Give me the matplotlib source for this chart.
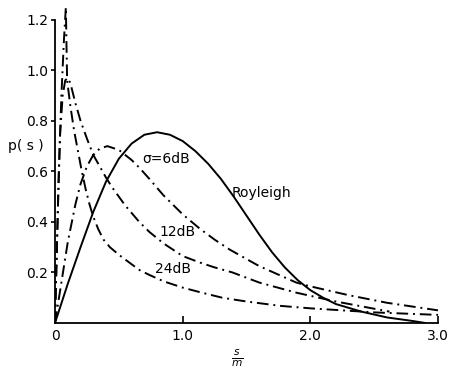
import matplotlib
matplotlib.use("Agg")
import matplotlib.pyplot as plt

# normalised amplitude s/m
ray_x = [0, 0.1, 0.2, 0.3, 0.4, 0.5, 0.6, 0.7, 0.8, 0.9, 1.0, 1.1, 1.2, 1.3,
         1.4, 1.5, 1.6, 1.7, 1.8, 1.9, 2.0, 2.1, 2.2, 2.4, 2.6, 2.8, 2.9]
ray_p = [0, 0.155, 0.30, 0.44, 0.56, 0.65, 0.71, 0.745, 0.755, 0.745, 0.72,
         0.68, 0.63, 0.57, 0.50, 0.425, 0.35, 0.28, 0.22, 0.17, 0.13, 0.10,
         0.075, 0.045, 0.022, 0.008, 0.0]

db6_x = [0, 0.05, 0.1, 0.16, 0.2, 0.25, 0.3, 0.35, 0.41, 0.5, 0.6, 0.66,
         0.74, 0.85, 1.0, 1.13, 1.25, 1.37, 1.6, 1.89, 2.0, 2.3, 2.6, 3.0]
db6_p = [0, 0.16, 0.32, 0.47, 0.55, 0.62, 0.665, 0.69, 0.70, 0.685, 0.645,
         0.615, 0.57, 0.505, 0.43, 0.375, 0.33, 0.29, 0.225, 0.16, 0.145,
         0.11, 0.08, 0.05]

db12_x = [0, 0.01, 0.025, 0.04, 0.06, 0.08, 0.10, 0.12, 0.16, 0.2, 0.25, 0.3,
          0.4, 0.45, 0.55, 0.66, 0.74, 0.85, 1.0, 1.13, 1.25, 1.39, 1.6,
          1.89, 2.2, 2.62]
db12_p = [0, 0.2, 0.5, 0.75, 0.9, 0.96, 0.97, 0.95, 0.87, 0.80, 0.73, 0.665,
          0.575, 0.535, 0.465, 0.40, 0.36, 0.315, 0.265, 0.24, 0.22, 0.20,
          0.16, 0.12, 0.085, 0.045]

db24_x = [0, 0.015, 0.03, 0.05, 0.07, 0.085, 0.09, 0.095, 0.12, 0.15, 0.18,
          0.21, 0.24, 0.27, 0.3, 0.34, 0.38, 0.43, 0.5, 0.58, 0.66, 0.74,
          0.85, 1.0, 1.15, 1.31, 1.5, 1.76, 2.0, 2.5, 3.0]
db24_p = [0, 0.3, 0.6, 0.9, 1.12, 1.25, 1.1, 0.96, 0.86, 0.76, 0.68, 0.60,
          0.53, 0.47, 0.42, 0.37, 0.33, 0.30, 0.27, 0.24, 0.21, 0.19, 0.165,
          0.14, 0.12, 0.10, 0.085, 0.068, 0.058, 0.042, 0.032]

xticks = [0, 1.0, 2.0, 3.0]
xlabels = ["0", "1.0", "2.0", "3.0"]
yticks = [0.2, 0.4, 0.6, 0.8, 1.0, 1.2]
ylabels = ["0.2", "0.4", "0.6", "0.8", "1.0", "1.2"]

plt.rcParams["font.family"] = "DejaVu Sans"
plt.rcParams["font.size"] = 10

fig = plt.figure(figsize=(4.49, 3.74), dpi=100)
ax = fig.add_axes([0.1225, 0.1364, 0.853, 0.858])

dashdot = (0, (6, 2.5, 1, 2.5))
ax.plot(ray_x, ray_p, color="black", lw=1.4)
ax.plot(db6_x, db6_p, color="black", lw=1.4, linestyle=dashdot)
ax.plot(db12_x, db12_p, color="black", lw=1.4, linestyle=dashdot)
ax.plot(db24_x, db24_p, color="black", lw=1.4, linestyle=dashdot)

ax.set_xlim(0, 3.0)
ax.set_ylim(0, 1.27)
ax.spines["top"].set_visible(False)
ax.spines["right"].set_visible(False)
ax.spines["left"].set_bounds(0, 1.2)
ax.spines["left"].set_linewidth(1.3)
ax.spines["bottom"].set_linewidth(1.3)

ax.set_xticks(xticks)
ax.set_xticklabels(xlabels)
ax.set_yticks(yticks)
ax.set_yticklabels(ylabels)
ax.tick_params(axis="x", direction="in", length=5, width=1.2, pad=4)
ax.tick_params(axis="y", direction="out", length=3, width=1.2, pad=2)
ax.xaxis.get_major_ticks()[0].tick1line.set_visible(False)

ax.text(-0.37, 0.70, "p( s )", ha="left", va="center")
ax.text(1.43, -0.14, r"$\frac{s}{m}$", ha="center", va="center", fontsize=11)

ax.text(0.68, 0.648, "σ=6dB", ha="left", va="center")
ax.text(1.38, 0.514, "Royleigh", ha="left", va="center")
ax.text(0.82, 0.36, "12dB", ha="left", va="center")
ax.text(0.78, 0.212, "24dB", ha="left", va="center")

fig.savefig("out.png", dpi=100, facecolor="white")
